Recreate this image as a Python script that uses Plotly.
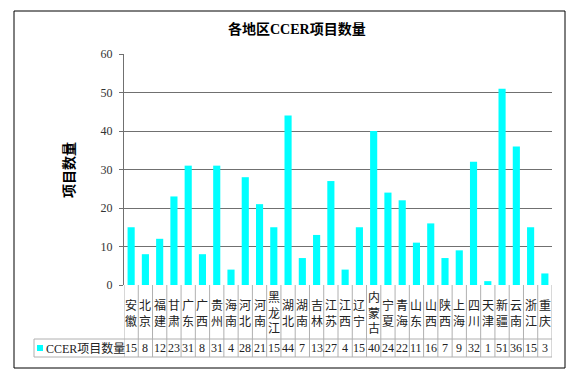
import plotly.graph_objects as go

regions = ["安徽", "北京", "福建", "甘肃", "广东", "广西", "贵州", "海南", "河北", "河南",
           "黑龙江", "湖北", "湖南", "吉林", "江苏", "江西", "辽宁", "内蒙古", "宁夏", "青海",
           "山东", "山西", "陕西", "上海", "四川", "天津", "新疆", "云南", "浙江", "重庆"]
counts = [15, 8, 12, 23, 31, 8, 31, 4, 28, 21,
          15, 44, 7, 13, 27, 4, 15, 40, 24, 22,
          11, 16, 7, 9, 32, 1, 51, 36, 15, 3]
series_name = "CCER项目数量"
title_text = "各地区CCER项目数量"
y_title = "项目数量"
y_ticks = [0, 10, 20, 30, 40, 50, 60]

# page draws the figure with an 8px body offset
OFF = 8
W, H = 583 - OFF, 378 - OFF
PL, PR, PT, PB = 124, 552, 54, 285  # plot area in window pixels
L, R, T, B = PL - OFF, 583 - PR, PT - OFF, 378 - PB
pw = PR - PL
ph = PB - PT

def px(xp):
    return (xp - PL) / pw

def py(yp):
    return (PB - yp) / ph

FONT = "Liberation Serif, Noto Sans CJK SC, serif"
CJK = "Noto Sans CJK SC, Liberation Serif, serif"
BAR_COLOR = "#00FFFF"

idx = list(range(len(regions)))

fig = go.Figure()
fig.add_trace(go.Bar(
    x=idx, y=counts, name=series_name, width=0.5,
    marker=dict(color=BAR_COLOR, line=dict(width=0)),
    showlegend=False,
))

shapes = []
# outer border
shapes.append(dict(type="rect", xref="paper", yref="paper",
                   x0=px(14), x1=px(565), y0=py(368), y1=py(11),
                   line=dict(color="#000000", width=1), layer="below"))
tbl_col = "#b0b0b0"
y_cat_bot = py(339)
y_val_bot = py(357)
# table vertical lines
for i in range(len(regions) + 1):
    shapes.append(dict(type="line", xref="x", yref="paper",
                       x0=i - 0.5, x1=i - 0.5, y0=0, y1=y_val_bot,
                       line=dict(color=tbl_col, width=1)))
# horizontal lines
shapes.append(dict(type="line", xref="paper", yref="paper",
                   x0=px(34), x1=1, y0=y_cat_bot, y1=y_cat_bot,
                   line=dict(color=tbl_col, width=1)))
shapes.append(dict(type="line", xref="paper", yref="paper",
                   x0=px(34), x1=1, y0=y_val_bot, y1=y_val_bot,
                   line=dict(color=tbl_col, width=1)))
shapes.append(dict(type="line", xref="paper", yref="paper",
                   x0=px(34), x1=px(34), y0=y_cat_bot, y1=y_val_bot,
                   line=dict(color=tbl_col, width=1)))
# legend key square
shapes.append(dict(type="rect", xref="paper", yref="paper",
                   x0=px(37), x1=px(43), y0=py(351), y1=py(345),
                   fillcolor=BAR_COLOR, line=dict(width=0)))

annotations = []
for i, (r, v) in enumerate(zip(regions, counts)):
    annotations.append(dict(xref="x", yref="paper", x=i, y=py(312),
                            text="<br>".join(list(r)), showarrow=False,
                            font=dict(family=CJK, size=12, color="#222"),
                            yanchor="middle", xanchor="center"))
    annotations.append(dict(xref="x", yref="paper", x=i, y=py(348),
                            text=str(v), showarrow=False,
                            font=dict(family=FONT, size=12, color="#222"),
                            yanchor="middle", xanchor="center"))
annotations.append(dict(xref="paper", yref="paper", x=px(44), y=py(348),
                        text=series_name, showarrow=False,
                        font=dict(family=FONT, size=12, color="#222"),
                        xanchor="left", yanchor="middle"))
annotations.append(dict(xref="paper", yref="paper", x=px(297), y=py(29),
                        text="<b>" + title_text + "</b>", showarrow=False,
                        font=dict(family=FONT, size=14, color="#000"),
                        xanchor="center", yanchor="middle"))
annotations.append(dict(xref="paper", yref="paper", x=px(68), y=py(170),
                        text="<b>" + y_title + "</b>", showarrow=False, textangle=-90,
                        font=dict(family=CJK, size=14, color="#000"),
                        xanchor="center", yanchor="middle"))

fig.update_layout(
    width=W, height=H,
    margin=dict(l=L, r=R, t=T, b=B, autoexpand=False),
    paper_bgcolor="white", plot_bgcolor="white",
    shapes=shapes, annotations=annotations,
    showlegend=False,
    xaxis=dict(range=[-0.5, len(regions) - 0.5], showticklabels=False,
               showgrid=False, zeroline=False, ticks="", showline=False, fixedrange=True),
    yaxis=dict(range=[0, 60], tickvals=y_ticks, showgrid=True, gridcolor="#707070",
               gridwidth=1, zeroline=False, showline=True, linecolor="#707070",
               ticks="outside", ticklen=4, tickcolor="#707070", ticklabelstandoff=4,
               tickfont=dict(family=FONT, size=12, color="#333")),
)

fig.write_html("out.html")
